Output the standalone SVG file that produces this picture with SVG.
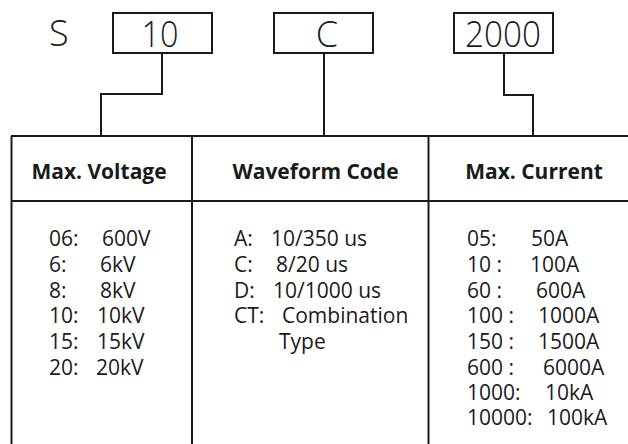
<svg xmlns="http://www.w3.org/2000/svg" width="628" height="444" viewBox="0 0 628 444">
<style>
.ln{fill:none;stroke:#1a1a1a;stroke-width:2}
.big{font-family:"Open Sans","Noto Sans",sans-serif;font-size:36px;fill:#1a1a1a;font-weight:300}
.hd{font-family:"Open Sans","Noto Sans",sans-serif;font-size:21px;font-weight:bold;fill:#1a1a1a;text-anchor:middle}
.bd{font-family:"Open Sans","Noto Sans",sans-serif;font-size:21px;fill:#1a1a1a}
</style>
<rect width="628" height="444" fill="#fff"/>
<text class="big" x="49" y="46">S</text>
<g id="box-voltage"><rect class="ln" x="113" y="13" width="99" height="40"/><text class="big" x="160" y="47" text-anchor="middle" textLength="37" lengthAdjust="spacingAndGlyphs">10</text></g>
<g id="box-waveform"><rect class="ln" x="274" y="13" width="99" height="40"/><text class="big" x="327" y="47" text-anchor="middle">C</text></g>
<g id="box-current"><rect class="ln" x="454" y="13" width="99" height="40"/><text class="big" x="465" y="47" textLength="76" lengthAdjust="spacingAndGlyphs">2000</text></g>
<g id="connectors">
<polyline class="ln" points="162,53 162,94 101,94 101,136"/>
<polyline class="ln" points="324,53 324,136"/>
<polyline class="ln" points="504,53 504,95 533,95 533,136"/>
</g>
<g id="table">
<line class="ln" x1="11" y1="136" x2="628" y2="136"/>
<line class="ln" x1="11" y1="201" x2="628" y2="201"/>
<line class="ln" x1="11.5" y1="136" x2="11.5" y2="444"/>
<line class="ln" x1="192" y1="136" x2="192" y2="444"/>
<line class="ln" x1="428.5" y1="136" x2="428.5" y2="444"/>
</g>
<g id="col-voltage">
<text class="hd" x="99" y="179">Max. Voltage</text>
<text class="bd"><tspan x="49" y="246">06:</tspan><tspan x="102" y="246">600V</tspan></text>
<text class="bd"><tspan x="49" y="272">6:</tspan><tspan x="100" y="272">6kV</tspan></text>
<text class="bd"><tspan x="49" y="298">8:</tspan><tspan x="100" y="298">8kV</tspan></text>
<text class="bd"><tspan x="49" y="323">10:</tspan><tspan x="97" y="323">10kV</tspan></text>
<text class="bd"><tspan x="49" y="349">15:</tspan><tspan x="97" y="349">15kV</tspan></text>
<text class="bd"><tspan x="49" y="375">20:</tspan><tspan x="96" y="375">20kV</tspan></text>
</g>
<g id="col-waveform">
<text class="hd" x="315.5" y="179">Waveform Code</text>
<text class="bd"><tspan x="234" y="246">A:</tspan><tspan x="271" y="246">10/350 us</tspan></text>
<text class="bd"><tspan x="234" y="272">C:</tspan><tspan x="276" y="272">8/20 us</tspan></text>
<text class="bd"><tspan x="234" y="298">D:</tspan><tspan x="273" y="298">10/1000 us</tspan></text>
<text class="bd"><tspan x="234" y="323">CT:</tspan><tspan x="282" y="323">Combination</tspan></text>
<text class="bd" x="279" y="349">Type</text>
</g>
<g id="col-current">
<text class="hd" x="534" y="179">Max. Current</text>
<text class="bd"><tspan x="467" y="246">05:</tspan><tspan x="531" y="246">50A</tspan></text>
<text class="bd"><tspan x="467" y="272">10 :</tspan><tspan x="530" y="272">100A</tspan></text>
<text class="bd"><tspan x="467" y="298">60 :</tspan><tspan x="536" y="298">600A</tspan></text>
<text class="bd"><tspan x="467" y="323">100 :</tspan><tspan x="538" y="323">1000A</tspan></text>
<text class="bd"><tspan x="467" y="349">150 :</tspan><tspan x="538" y="349">1500A</tspan></text>
<text class="bd"><tspan x="467" y="375">600 :</tspan><tspan x="543" y="375">6000A</tspan></text>
<text class="bd"><tspan x="467" y="400">1000:</tspan><tspan x="545" y="400">10kA</tspan></text>
<text class="bd"><tspan x="467" y="425">10000:</tspan><tspan x="547" y="425">100kA</tspan></text>
</g>
</svg>
